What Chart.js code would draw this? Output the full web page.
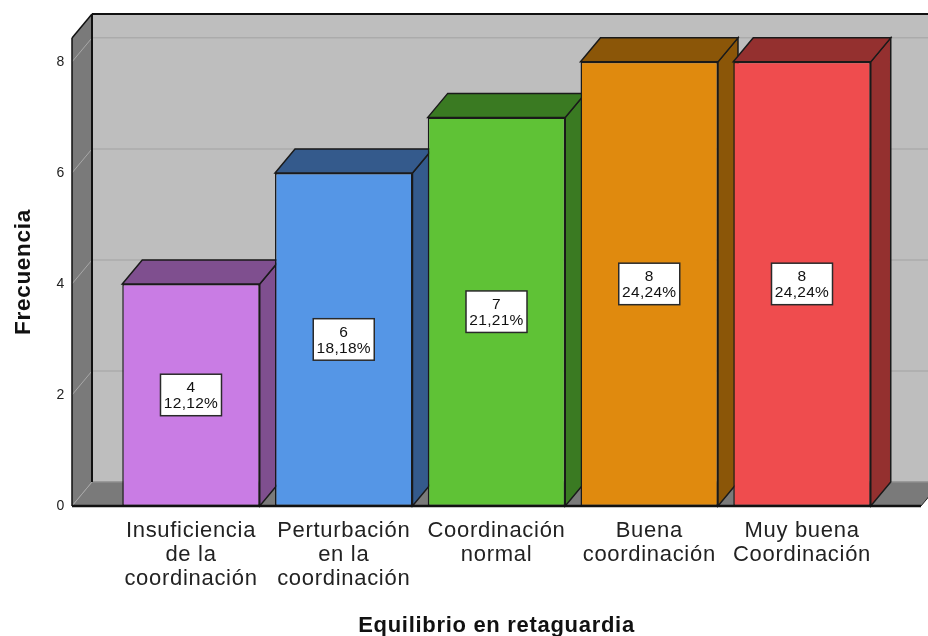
<!DOCTYPE html>
<html>
<head>
<meta charset="utf-8">
<style>
  html, body { margin: 0; padding: 0; background: #fff; }
  #wrap { position: relative; width: 928px; height: 636px; overflow: hidden; }
</style>
<script src="https://cdn.jsdelivr.net/npm/chart.js@4/dist/chart.umd.min.js"></script>
</head>
<body>
<div id="wrap"><canvas id="chart" width="928" height="636"></canvas></div>
<script>
const categories = [
  ['Insuficiencia', 'de la', 'coordinación'],
  ['Perturbación', 'en la', 'coordinación'],
  ['Coordinación', 'normal'],
  ['Buena', 'coordinación'],
  ['Muy buena', 'Coordinación']
];
const counts = [4, 6, 7, 8, 8];
const percents = ['12,12%', '18,18%', '21,21%', '24,24%', '24,24%'];
const faceColors = ['#C97CE4', '#5596E6', '#5FC236', '#E08A0E', '#EF4C4E'];
const shadeColors = ['#7F4F8F', '#345A8C', '#3A7A22', '#8B5608', '#94302F'];
const yTicks = [0, 2, 4, 6, 8];

// Oblique projection of the box: how far the back plane sits from the front plane.
const DEPTH_X = 20;
const DEPTH_Y = 24;

function poly(ctx, pts, fill, stroke, width) {
  ctx.beginPath();
  pts.forEach((p, i) => i ? ctx.lineTo(p[0], p[1]) : ctx.moveTo(p[0], p[1]));
  ctx.closePath();
  if (fill) { ctx.fillStyle = fill; ctx.fill(); }
  if (stroke) { ctx.strokeStyle = stroke; ctx.lineWidth = width || 1; ctx.stroke(); }
}
function seg(ctx, x1, y1, x2, y2, color, width) {
  ctx.beginPath();
  ctx.moveTo(x1, y1);
  ctx.lineTo(x2, y2);
  ctx.strokeStyle = color;
  ctx.lineWidth = width;
  ctx.stroke();
}

const box3d = {
  id: 'box3d',
  beforeDraw(chart) {
    chart.ctx.letterSpacing = '0.7px';
  },
  beforeDatasetsDraw(chart) {
    const { ctx, chartArea: a, scales: { y } } = chart;
    const dx = DEPTH_X, dy = DEPTH_Y;
    ctx.save();
    ctx.letterSpacing = '0px';
    // Back wall
    poly(ctx, [[a.left + dx, a.top - dy], [a.right + dx, a.top - dy], [a.right + dx, a.bottom - dy], [a.left + dx, a.bottom - dy]], '#BEBEBE');
    // Side wall and floor
    poly(ctx, [[a.left, a.top], [a.left + dx, a.top - dy], [a.left + dx, a.bottom - dy], [a.left, a.bottom]], '#7A7A7A');
    poly(ctx, [[a.left, a.bottom], [a.right, a.bottom], [a.right + dx, a.bottom - dy], [a.left + dx, a.bottom - dy]], '#7A7A7A');
    // Grid lines wrapping the side wall and back wall
    yTicks.forEach(v => {
      const py = y.getPixelForValue(v);
      seg(ctx, a.left, py, a.left + dx, py - dy, '#A8A8A8', 1);
      seg(ctx, a.left + dx, py - dy, a.right + dx, py - dy, v === 0 ? '#8E8E8E' : '#ABABAB', 1.5);
    });
    // Frame
    seg(ctx, a.left + dx, a.top - dy, a.right + dx, a.top - dy, '#111', 2);
    seg(ctx, a.left + dx, a.top - dy, a.left + dx, a.bottom - dy, '#111', 2);
    seg(ctx, a.left, a.top, a.left + dx, a.top - dy, '#111', 1.5);
    seg(ctx, a.left, a.top, a.left, a.bottom, '#111', 1.5);
    seg(ctx, a.right, a.bottom, a.right + dx, a.bottom - dy, '#222', 1);
    // Side and top faces of each bar; the front faces are the chart's own bars
    chart.getDatasetMeta(0).data.forEach((bar, i) => {
      const l = bar.x - bar.width / 2, r = bar.x + bar.width / 2;
      const t = bar.y, b = bar.base;
      poly(ctx, [[r, t], [r + dx, t - dy], [r + dx, b - dy], [r, b]], shadeColors[i], '#1a1a1a', 1.5);
      poly(ctx, [[l, t], [r, t], [r + dx, t - dy], [l + dx, t - dy]], shadeColors[i], '#1a1a1a', 1.5);
    });
    seg(ctx, a.left, a.bottom, a.right, a.bottom, '#111', 2.5);
    ctx.restore();
  },
  afterDatasetsDraw(chart) {
    const { ctx, chartArea: a } = chart;
    ctx.save();
    chart.getDatasetMeta(0).data.forEach((bar, i) => {
      // Value label box centred on the bar's front face
      const cy = (bar.y + bar.base) / 2;
      const w = 61, h = 41.5;
      ctx.fillStyle = '#fff';
      ctx.fillRect(bar.x - w / 2, cy - h / 2, w, h);
      ctx.strokeStyle = '#2a2a2a';
      ctx.lineWidth = 1.5;
      ctx.strokeRect(bar.x - w / 2, cy - h / 2, w, h);
      ctx.fillStyle = '#111';
      ctx.font = '15.5px "Liberation Sans", Arial, sans-serif';
      ctx.letterSpacing = '0.3px';
      ctx.textAlign = 'center';
      ctx.textBaseline = 'middle';
      ctx.fillText(String(counts[i]), bar.x, cy - 7);
      ctx.fillText(percents[i], bar.x, cy + 9);
    });
    ctx.letterSpacing = '0.7px';
    seg(ctx, a.left, a.bottom, a.right, a.bottom, '#111', 2);
    ctx.restore();
  }
};

new Chart(document.getElementById('chart'), {
  type: 'bar',
  plugins: [box3d],
  data: {
    datasets: [{
      data: counts.map((v, i) => ({ x: i, y: v })),
      backgroundColor: faceColors,
      borderColor: '#1a1a1a',
      borderWidth: 1.5,
      borderSkipped: false,
      barPercentage: 0.9,
      categoryPercentage: 1
    }]
  },
  options: {
    responsive: false,
    animation: false,
    layout: { padding: { top: 38, right: 7, left: 0, bottom: 0 } },
    plugins: { legend: { display: false }, tooltip: { enabled: false } },
    scales: {
      x: {
        type: 'linear',
        offset: false,
        min: -0.779,
        max: 4.779,
        afterFit(s) { s.height = 130; },
        grid: { display: false, offset: false },
        border: { display: false },
        ticks: {
          stepSize: 1,
          includeBounds: false,
          autoSkip: false,
          maxRotation: 0,
          minRotation: 0,
          padding: 5,
          color: '#222',
          font: { family: '"Liberation Sans", Arial, sans-serif', size: 22, lineHeight: 1.09 },
          callback: v => categories[v]
        },
        title: {
          display: true,
          text: 'Equilibrio en retaguardia',
          color: '#111',
          font: { family: '"Liberation Sans", Arial, sans-serif', size: 22, weight: 'bold' },
          padding: { top: 0, bottom: -3 }
        }
      },
      y: {
        min: 0,
        max: 8.43,
        afterFit(s) { s.width = 72; },
        grid: { display: false },
        border: { display: false },
        ticks: {
          stepSize: 2,
          includeBounds: false,
          padding: -1,
          color: '#222',
          font: { family: '"Liberation Sans", Arial, sans-serif', size: 14 }
        },
        title: {
          display: true,
          text: 'Frecuencia',
          color: '#111',
          font: { family: '"Liberation Sans", Arial, sans-serif', size: 22.5, weight: 'bold' },
          padding: { top: 10, bottom: 0 }
        }
      }
    }
  }
});
</script>
</body>
</html>
